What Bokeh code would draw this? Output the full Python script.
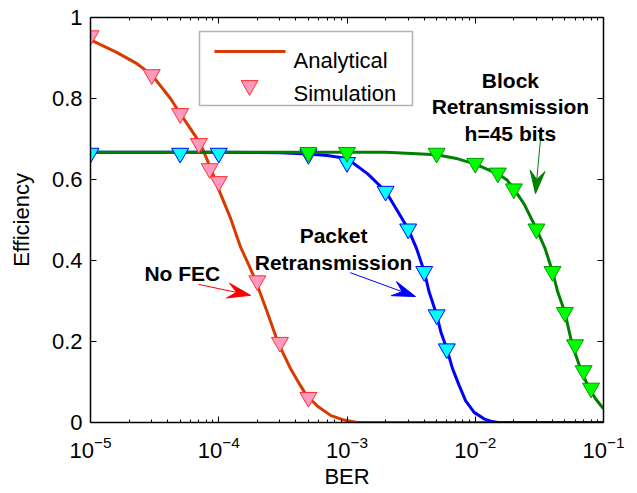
import numpy as np
from bokeh.plotting import figure
from bokeh.models import (Range1d, FixedTicker, LogAxis, LinearAxis, Label,
                          BoxAnnotation, CustomJSTickFormatter, LogTickFormatter)
from bokeh.embed import file_html
from bokeh.resources import INLINE

# ---------------- data ----------------
nofec_ber = [1e-5, 1.6e-5, 2.3e-5, 3e-5, 4.2e-5, 5e-5, 5.8e-5, 7.2e-5, 8.6e-5, 1.03e-4,
             1.23e-4, 1.48e-4, 1.72e-4, 1.94e-4, 2.39e-4, 2.89e-4, 3.63e-4, 4.34e-4,
             4.83e-4, 5.9e-4, 7.5e-4, 9.5e-4, 1.2e-3, 3.3e-2]
nofec_eff = [0.945, 0.914, 0.886, 0.859, 0.80, 0.763, 0.733, 0.688, 0.63, 0.565,
             0.506, 0.433, 0.388, 0.35, 0.272, 0.198, 0.133, 0.091,
             0.067, 0.04, 0.017, 0.006, 0.0, 0.0]
nofec_sim_ber = [1e-5, 3e-5, 5e-5, 7e-5, 8.5e-5, 1e-4, 2e-4, 3e-4, 5e-4]
nofec_sim_eff = [0.955, 0.859, 0.763, 0.689, 0.627, 0.595, 0.35, 0.198, 0.062]

packet_ber = [1e-5, 1e-4, 3e-4, 5e-4, 7e-4, 1e-3, 1.45e-3, 2e-3, 2.47e-3, 3e-3, 3.5e-3,
              4e-3, 4.37e-3, 5e-3, 5.4e-3, 6e-3, 6.65e-3, 7.5e-3, 8.4e-3, 9.8e-3,
              1.17e-2, 1.32e-2, 1.5e-2, 1e-1]
packet_eff = [0.667, 0.667, 0.666, 0.663, 0.659, 0.652, 0.614, 0.571, 0.523, 0.478, 0.428,
              0.373, 0.322, 0.266, 0.223, 0.182, 0.133, 0.091, 0.054, 0.025,
              0.009, 0.003, 0.0, 0.0]
packet_sim_ber = [1e-5, 5e-5, 1e-4, 5e-4, 1e-3, 2e-3, 3e-3, 4e-3, 5e-3, 6e-3]
packet_sim_eff = [0.665, 0.665, 0.665, 0.662, 0.642, 0.571, 0.478, 0.373, 0.266, 0.182]

block_ber = [1e-5, 1e-3, 2e-3, 3.2e-3, 5e-3, 7.3e-3, 1e-2, 1.5e-2, 1.78e-2, 2e-2, 2.4e-2,
             3e-2, 3.5e-2, 4e-2, 4.4e-2, 5e-2, 5.7e-2, 6.7e-2, 7.7e-2, 8.7e-2, 1e-1]
block_eff = [0.667, 0.667, 0.667, 0.664, 0.661, 0.651, 0.638, 0.614, 0.598, 0.577, 0.54,
             0.478, 0.43, 0.373, 0.322, 0.272, 0.192, 0.128, 0.085, 0.058, 0.034]
block_sim_ber = [5e-4, 1e-3, 5e-3, 1e-2, 1.5e-2, 2e-2, 3e-2, 4e-2, 5e-2, 6e-2, 7e-2, 8e-2]
block_sim_eff = [0.667, 0.667, 0.665, 0.640, 0.616, 0.577, 0.478, 0.373, 0.272, 0.192, 0.128, 0.085]

x_ticks = [1e-5, 1e-4, 1e-3, 1e-2, 1e-1]
y_ticks = [0.0, 0.2, 0.4, 0.6, 0.8, 1.0]
y_tick_labels = ["0", "0.2", "0.4", "0.6", "0.8", "1"]
legend_labels = ["Analytical", "Simulation"]
x_label = "BER"
y_label = "Efficiency"

# annotations anchored in data coordinates
notes = [  # (x, y, text)
    (5.2e-5, 0.368, "No FEC"),
    (7.85e-4, 0.462, "Packet"),
    (7.85e-4, 0.395, "Retransmission"),
    (0.0188, 0.844, "Block"),
    (0.0188, 0.780, "Retransmission"),
    (0.0188, 0.714, "h=45 bits"),
]
arrows = [  # (tail, tip, color)
    ((6.95e-5, 0.341), (1.77e-4, 0.314), "#FF0000"),
    ((1.06e-3, 0.370), (3.42e-3, 0.311), "#0000FF"),
    ((0.0323, 0.701), (0.0295, 0.565), "#008000"),
]

# ---------------- layout ----------------
XMIN, XMAX = 1e-5, 1e-1
W, H = 636, 492
FL, FR, FT, FB = 90, 603, 17, 422
FONT = "Liberation Sans"

def x2px(x):
    return FL + (np.log10(x) - np.log10(XMIN)) / (np.log10(XMAX) - np.log10(XMIN)) * (FR - FL)

def px2x(px):
    return 10 ** (np.log10(XMIN) + (px - FL) / (FR - FL) * (np.log10(XMAX) - np.log10(XMIN)))

def y2py(y):
    return FB - y * (FB - FT)

def py2y(py):
    return (FB - py) / (FB - FT)

p = figure(width=W, height=H, x_axis_type="log",
           x_range=Range1d(XMIN, XMAX), y_range=Range1d(0, 1),
           output_backend="svg", toolbar_location=None,
           min_border_left=FL, min_border_right=W - FR,
           min_border_top=FT, min_border_bottom=H - FB)
p.outline_line_color = None
p.xgrid.visible = False
p.ygrid.visible = False
p.background_fill_color = "white"
p.border_fill_color = "white"

minor = [m * 10.0 ** e for e in range(-5, -1) for m in range(2, 10)]
xt = FixedTicker(ticks=x_ticks, minor_ticks=minor)
yt = FixedTicker(ticks=y_ticks)

def style(ax, show):
    ax.axis_line_color = "black"
    ax.axis_line_width = 1.5
    ax.major_tick_in = 6
    ax.major_tick_out = 0
    ax.minor_tick_in = 3
    ax.minor_tick_out = 0
    ax.major_tick_line_color = "black"
    ax.minor_tick_line_color = "black"
    ax.major_tick_line_width = 1
    ax.minor_tick_line_width = 1
    ax.major_label_text_font = FONT
    ax.major_label_text_font_size = "22px"
    ax.major_label_text_color = "black"
    ax.axis_label_text_font = FONT
    ax.axis_label_text_font_size = "22px"
    ax.axis_label_text_font_style = "normal"
    ax.axis_label_text_color = "black"
    if not show:
        ax.formatter = CustomJSTickFormatter(code="return ''")
        ax.major_label_standoff = 0

bx = p.below[0]
bx.ticker = xt
style(bx, True)
bx.formatter = LogTickFormatter()
bx.major_label_standoff = 13
bx.axis_label = x_label
bx.axis_label_standoff = 3

ly = p.left[0]
ly.ticker = yt
style(ly, True)
ly.major_label_overrides = dict(zip(y_ticks, y_tick_labels))
ly.major_label_standoff = 8
ly.axis_label = y_label
ly.axis_label_standoff = 15

tx = LogAxis(ticker=xt)
style(tx, False)
p.add_layout(tx, "above")
ry = LinearAxis(ticker=yt)
style(ry, False)
p.add_layout(ry, "right")

# ---------------- curves ----------------
RED = "#D83B01"
p.line(nofec_ber, nofec_eff, line_color=RED, line_width=3)
p.line(packet_ber, packet_eff, line_color="#0000FF", line_width=3)
p.line(block_ber, block_eff, line_color="#008000", line_width=3)

MS = 17
p.scatter(nofec_sim_ber, nofec_sim_eff, marker="inverted_triangle", size=MS,
          fill_color="#FF99C0", line_color="#FF3030", line_width=1)
p.scatter(packet_sim_ber, packet_sim_eff, marker="inverted_triangle", size=MS,
          fill_color="#00FFFF", line_color="#0000FF", line_width=1)
p.scatter(block_sim_ber, block_sim_eff, marker="inverted_triangle", size=MS,
          fill_color="#00FF00", line_color="#009900", line_width=1)

# ---------------- arrows ----------------
AL, AW, AN = 23, 15, 0.62 * 23
for (t_x, t_y), (h_x, h_y), col in arrows:
    x0, y0 = x2px(t_x), y2py(t_y)
    x1, y1 = x2px(h_x), y2py(h_y)
    d = np.hypot(x1 - x0, y1 - y0)
    ux, uy = (x1 - x0) / d, (y1 - y0) / d
    nx, ny = -uy, ux
    bxp, byp = x1 - AL * ux, y1 - AL * uy
    pts = [(x1, y1), (bxp + AW / 2 * nx, byp + AW / 2 * ny),
           (x1 - AN * ux, y1 - AN * uy), (bxp - AW / 2 * nx, byp - AW / 2 * ny)]
    p.patch([px2x(a) for a, b in pts], [py2y(b) for a, b in pts],
            fill_color=col, line_color=col, line_width=1)
    p.line([t_x, px2x(x1 - AN * ux)], [t_y, py2y(y1 - AN * uy)], line_color=col, line_width=1)

for nx_, ny_, txt in notes:
    p.add_layout(Label(x=nx_, y=ny_, text=txt, text_font=FONT, text_font_style="bold",
                       text_font_size="21px", text_align="center",
                       text_baseline="alphabetic", text_color="black"))

# ---------------- legend ----------------
p.add_layout(BoxAnnotation(left=px2x(199), right=px2x(412), top=py2y(31), bottom=py2y(105),
                           fill_color="white", fill_alpha=1.0, line_color="black",
                           line_width=1.5, level="underlay"))
p.line([px2x(214), px2x(285)], [py2y(51), py2y(51)], line_color=RED, line_width=3)
p.scatter([px2x(249)], [py2y(85)], marker="inverted_triangle", size=MS,
          fill_color="#FF99C0", line_color="#FF3030", line_width=1)
for yb, txt in zip([py2y(59.5), py2y(93)], legend_labels):
    p.add_layout(Label(x=px2x(293), y=yb, text=txt, text_font=FONT, text_font_size="22px",
                       text_align="left", text_baseline="alphabetic", text_color="black"))

open("out.html", "w").write(file_html(p, INLINE))
